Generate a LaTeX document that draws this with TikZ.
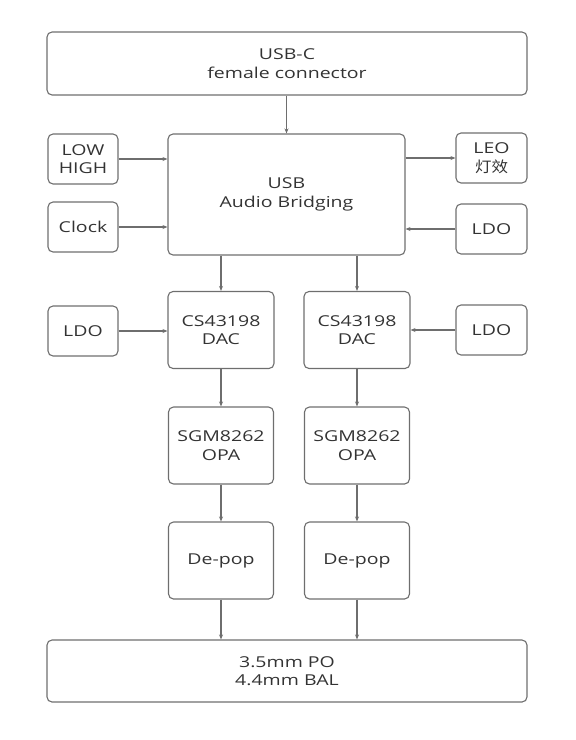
\documentclass[tikz,border=0pt]{standalone}
\usepackage{fontspec}
\setmainfont{Open Sans}[FakeStretch=1.3]
\newfontfamily\cjk{Noto Sans CJK SC}[FakeStretch=1.1]
\usetikzlibrary{positioning,arrows.meta,calc}
\definecolor{edgegray}{HTML}{6E6E6E}
\definecolor{textgray}{HTML}{333333}
\tikzset{
  blk/.style={draw=edgegray,line width=1.1pt,rounded corners=5pt,align=center,
    text=textgray,font=\fontsize{15}{18.5}\selectfont,inner sep=0pt},
  sig/.style={-{Stealth[length=5pt,width=4pt]},draw=edgegray,line width=1.1pt},
}

\begin{document}
\begin{tikzpicture}[x=1pt,y=-1pt]
  \useasboundingbox (0,0) rectangle (576,740);
  % top and centre blocks
  \node[blk,minimum width=480pt,minimum height=63pt] (usbc) at (287,63.5) {USB-C\\female connector};
  \node[blk,minimum width=237pt,minimum height=121pt] (bridge) at (286.5,194.5) {USB\\Audio Bridging};
  \node[blk,minimum width=70pt,minimum height=50pt] (lowhigh) at (83,159) {LOW\\HIGH};
  \node[blk,minimum width=70pt,minimum height=50pt] (clock) at (83,227) {Clock};
  \node[blk,minimum width=71pt,minimum height=50pt] (leo) at (491.5,158) {LEO\\{\cjk 灯效}};
  \node[blk,minimum width=71pt,minimum height=50pt] (ldotop) at (491.5,229) {LDO};
  % two channels
  \node[blk,minimum width=106pt,minimum height=77pt] (dacl) at (221,330) {CS43198\\DAC};
  \node[blk,minimum width=106pt,minimum height=77pt] (dacr) at (357,330) {CS43198\\DAC};
  \node[blk,minimum width=70pt,minimum height=50pt] (ldol) at (83,331) {LDO};
  \node[blk,minimum width=71pt,minimum height=50pt] (ldor) at (491.5,330) {LDO};
  \node[blk,minimum width=105pt,minimum height=77pt] (opal) at (221,445.5) {SGM8262\\OPA};
  \node[blk,minimum width=105pt,minimum height=77pt] (opar) at (357,445.5) {SGM8262\\OPA};
  \node[blk,minimum width=105pt,minimum height=77pt] (depopl) at (221,560.5) {De-pop};
  \node[blk,minimum width=105pt,minimum height=77pt] (depopr) at (357,560.5) {De-pop};
  \node[blk,minimum width=480pt,minimum height=62pt] (out) at (287,671) {3.5mm PO\\4.4mm BAL};
  % connections
  \draw[sig] (usbc.south -| bridge) -- (bridge.north);
  \draw[sig] (lowhigh.east) -- (lowhigh.east -| bridge.west);
  \draw[sig] (clock.east) -- (clock.east -| bridge.west);
  \draw[sig] (leo.west -| bridge.east) -- (leo.west);
  \draw[sig] (ldotop.west) -- (ldotop.west -| bridge.east);
  \draw[sig] (bridge.south -| dacl) -- (dacl.north);
  \draw[sig] (bridge.south -| dacr) -- (dacr.north);
  \draw[sig] (ldol.east) -- (ldol.east -| dacl.west);
  \draw[sig] (ldor.west) -- (ldor.west -| dacr.east);
  \draw[sig] (dacl) -- (opal);
  \draw[sig] (dacr) -- (opar);
  \draw[sig] (opal) -- (depopl);
  \draw[sig] (opar) -- (depopr);
  \draw[sig] (depopl.south) -- (depopl.south |- out.north);
  \draw[sig] (depopr.south) -- (depopr.south |- out.north);
\end{tikzpicture}
\end{document}
